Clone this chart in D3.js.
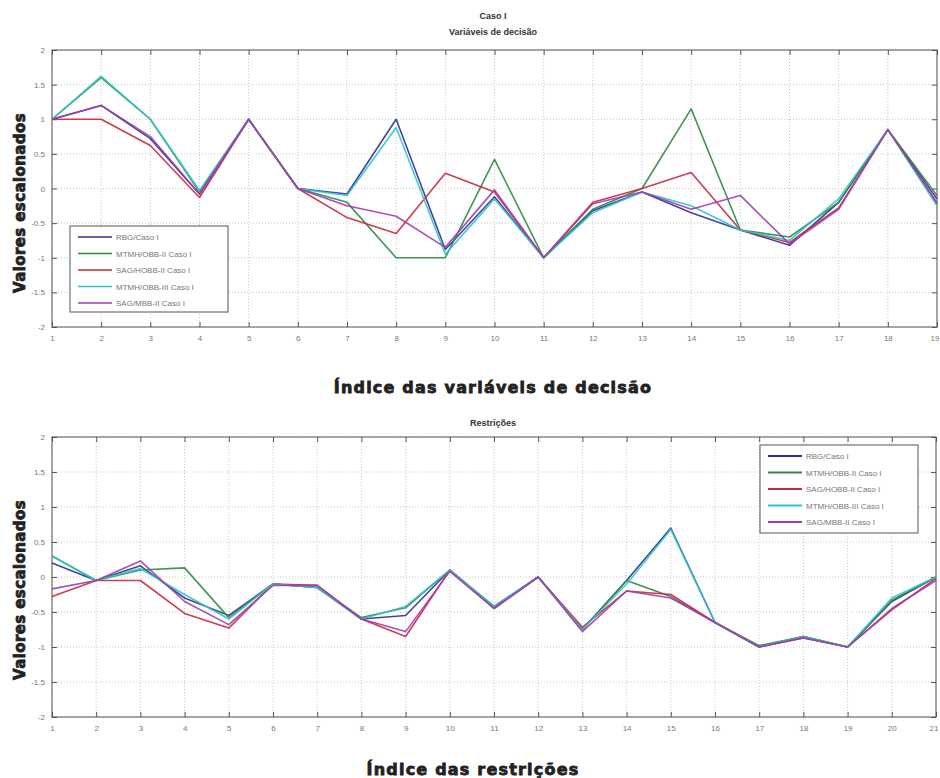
<!DOCTYPE html>
<html>
<head>
<meta charset="utf-8">
<script src="https://cdn.jsdelivr.net/npm/d3@7"></script>
<style>
  html, body { margin: 0; padding: 0; background: #fff; }
  svg { display: block; }
</style>
</head>
<body>
<svg id="chart" width="940" height="778"></svg>
<script>
// Series names and colours shared by both panels
const seriesNames = [
  "RBG/Caso I",
  "MTMH/OBB-II Caso I",
  "SAG/HOBB-II Caso I",
  "MTMH/OBB-III Caso I",
  "SAG/MBB-II Caso I"
];
const seriesColors = ["#2e3192", "#2f8a43", "#c8283c", "#30c4c8", "#a03cb0"];

// Panel 1: scaled decision variables (indices 1..19)
const varIndex = d3.range(1, 20);
const varRBG   = [1.0, 1.2, 0.72, -0.08, 1.0, 0, -0.08, 1.0, -0.88, -0.12, -1.0, -0.32, -0.05, -0.35, -0.6, -0.82, -0.2, 0.85, -0.15];
const varMTMH2 = [1.0, 1.6, 1.0, -0.05, 1.0, 0, -0.2, -1.0, -1.0, 0.42, -1.0, -0.3, 0.0, 1.15, -0.6, -0.7, -0.2, 0.85, -0.1];
const varSAGH  = [1.0, 1.0, 0.62, -0.13, 1.0, 0, -0.42, -0.65, 0.22, -0.05, -1.0, -0.2, 0.0, 0.23, -0.6, -0.78, -0.28, 0.85, -0.22];
const varMTMH3 = [1.0, 1.62, 1.0, -0.03, 1.0, 0, -0.1, 0.88, -0.95, -0.15, -1.0, -0.35, -0.05, -0.25, -0.6, -0.75, -0.15, 0.85, -0.25];
const varSAGM  = [1.0, 1.2, 0.75, -0.08, 1.0, 0, -0.25, -0.4, -0.85, -0.02, -1.0, -0.22, -0.05, -0.3, -0.1, -0.8, -0.3, 0.85, -0.2];

// Panel 2: scaled constraints (indices 1..21)
const resIndex = d3.range(1, 22);
const resRBG   = [0.2, -0.05, 0.16, -0.3, -0.55, -0.1, -0.15, -0.6, -0.55, 0.1, -0.42, 0.0, -0.75, -0.05, 0.7, -0.65, -1.0, -0.85, -1.0, -0.35, 0.0];
const resMTMH2 = [0.3, -0.05, 0.1, 0.13, -0.58, -0.1, -0.15, -0.58, -0.44, 0.1, -0.43, 0.0, -0.75, -0.05, -0.28, -0.65, -0.98, -0.85, -1.0, -0.33, 0.0];
const resSAGH  = [-0.28, -0.05, -0.05, -0.52, -0.73, -0.1, -0.12, -0.6, -0.85, 0.1, -0.45, 0.0, -0.72, -0.2, -0.25, -0.65, -1.0, -0.87, -1.0, -0.47, -0.02];
const resMTMH3 = [0.3, -0.05, 0.12, -0.25, -0.6, -0.1, -0.15, -0.6, -0.42, 0.1, -0.42, 0.0, -0.75, -0.1, 0.68, -0.65, -1.0, -0.85, -1.0, -0.3, 0.0];
const resSAGM  = [-0.17, -0.05, 0.23, -0.35, -0.68, -0.12, -0.12, -0.6, -0.78, 0.08, -0.45, 0.0, -0.78, -0.2, -0.3, -0.65, -1.0, -0.87, -1.0, -0.45, -0.05];

const yTicks = [-2, -1.5, -1, -0.5, 0, 0.5, 1, 1.5, 2];
const yTickLabels = ["-2", "-1.5", "-1", "-0.5", "0", "0.5", "1", "1.5", "2"];

const svg = d3.select("#chart");
const heavyFont = "'DejaVu Sans', 'Liberation Sans', Arial, sans-serif";
const smallFont = "'Liberation Sans', Arial, sans-serif";

function drawPanel(cfg) {
  const { left, right, top, bottom, xs, series, titles, xLabel, xLabelX, xLabelY, yLabelY, legend } = cfg;
  const g = svg.append("g");
  const x = d3.scaleLinear().domain([xs[0], xs[xs.length - 1]]).range([left, right]);
  const y = d3.scaleLinear().domain([-2, 2]).range([bottom, top]);

  // dotted grid
  g.append("g").selectAll("line").data(xs).join("line")
    .attr("x1", d => x(d)).attr("x2", d => x(d))
    .attr("y1", top).attr("y2", bottom)
    .attr("stroke", "#c8c8c8").attr("stroke-width", 1).attr("stroke-dasharray", "1,2");
  g.append("g").selectAll("line").data(yTicks).join("line")
    .attr("x1", left).attr("x2", right)
    .attr("y1", d => y(d)).attr("y2", d => y(d))
    .attr("stroke", "#c8c8c8").attr("stroke-width", 1).attr("stroke-dasharray", "1,2");

  // axes with inward ticks, labels outside
  const xAxis = d3.axisBottom(x).tickValues(xs).tickSize(-5).tickPadding(8).tickFormat(d3.format("d"));
  const xAxisTop = d3.axisTop(x).tickValues(xs).tickSize(-5).tickFormat("");
  const yAxis = d3.axisLeft(y).tickValues(yTicks).tickSize(-5).tickPadding(7)
    .tickFormat(d => yTickLabels[yTicks.indexOf(d)]);
  const yAxisRight = d3.axisRight(y).tickValues(yTicks).tickSize(-5).tickFormat("");

  const styleAxis = sel => {
    sel.select(".domain").remove();
    sel.selectAll(".tick line").attr("stroke", "#555");
    sel.selectAll(".tick text").attr("fill", "#777").attr("font-size", 8).attr("font-family", smallFont);
  };
  const bx = g.append("g").attr("transform", `translate(0,${bottom})`).call(xAxis).call(styleAxis);
  // keep the last index label inside the canvas
  bx.selectAll(".tick text").filter(d => d === xs[xs.length - 1]).attr("text-anchor", "end").attr("dx", 2);
  g.append("g").attr("transform", `translate(0,${top})`).call(xAxisTop).call(styleAxis);
  g.append("g").attr("transform", `translate(${left},0)`).call(yAxis).call(styleAxis);
  g.append("g").attr("transform", `translate(${right},0)`).call(yAxisRight).call(styleAxis);

  // plot box
  g.append("rect").attr("x", left).attr("y", top)
    .attr("width", right - left).attr("height", bottom - top)
    .attr("fill", "none").attr("stroke", "#555").attr("stroke-width", 1);

  // series lines
  const line = d3.line().x((d, i) => x(xs[i])).y(d => y(d));
  const lg = g.append("g");
  series.forEach((s, i) => {
    lg.append("path").datum(s)
      .attr("d", line).attr("fill", "none")
      .attr("stroke", seriesColors[i]).attr("stroke-width", 1.6)
      .attr("stroke-linejoin", "round").attr("opacity", 0.9);
  });

  // titles
  titles.forEach(t => {
    g.append("text").attr("x", t.x).attr("y", t.y).attr("text-anchor", "middle")
      .attr("font-family", smallFont).attr("font-weight", "bold").attr("font-size", 9)
      .attr("fill", "#333").text(t.text);
  });

  // axis labels (heavy, slightly stroked for extra weight)
  g.append("text").attr("x", xLabelX).attr("y", xLabelY).attr("text-anchor", "middle")
    .attr("font-family", heavyFont).attr("font-weight", "bold").attr("font-size", 16)
    .attr("letter-spacing", 1.2)
    .attr("fill", "#222").attr("stroke", "#222").attr("stroke-width", 0.8)
    .text(xLabel);
  g.append("text")
    .attr("transform", `translate(25,${yLabelY}) rotate(-90)`)
    .attr("text-anchor", "middle")
    .attr("font-family", heavyFont).attr("font-weight", "bold").attr("font-size", 15)
    .attr("letter-spacing", 0.4)
    .attr("fill", "#222").attr("stroke", "#222").attr("stroke-width", 0.8)
    .text("Valores escalonados");

  // legend
  const lb = g.append("g").attr("transform", `translate(${legend.x},${legend.y})`);
  lb.append("rect").attr("width", legend.w).attr("height", legend.h)
    .attr("fill", "#fff").attr("stroke", "#555").attr("stroke-width", 1);
  seriesNames.forEach((n, i) => {
    const yy = 11 + i * 16.5;
    lb.append("line").attr("x1", 8).attr("x2", 42).attr("y1", yy).attr("y2", yy)
      .attr("stroke", seriesColors[i]).attr("stroke-width", legend.lw);
    lb.append("text").attr("x", 46).attr("y", yy + 3)
      .attr("font-family", smallFont).attr("font-size", 8).attr("fill", "#777").text(n);
  });
}

drawPanel({
  left: 52, right: 937, top: 50, bottom: 327,
  xs: varIndex,
  series: [varRBG, varMTMH2, varSAGH, varMTMH3, varSAGM],
  titles: [{ text: "Caso I", x: 493, y: 19 }, { text: "Variáveis de decisão", x: 493, y: 35 }],
  xLabel: "Índice das variáveis de decisão", xLabelX: 493, xLabelY: 393,
  yLabelY: 203,
  legend: { x: 70, y: 226, w: 158, h: 86, lw: 1.6 }
});

drawPanel({
  left: 52, right: 936, top: 437, bottom: 717,
  xs: resIndex,
  series: [resRBG, resMTMH2, resSAGH, resMTMH3, resSAGM],
  titles: [{ text: "Restrições", x: 493, y: 426 }],
  xLabel: "Índice das restrições", xLabelX: 473, xLabelY: 775,
  yLabelY: 590,
  legend: { x: 760, y: 445, w: 158, h: 88, lw: 2.2 }
});
</script>
</body>
</html>
